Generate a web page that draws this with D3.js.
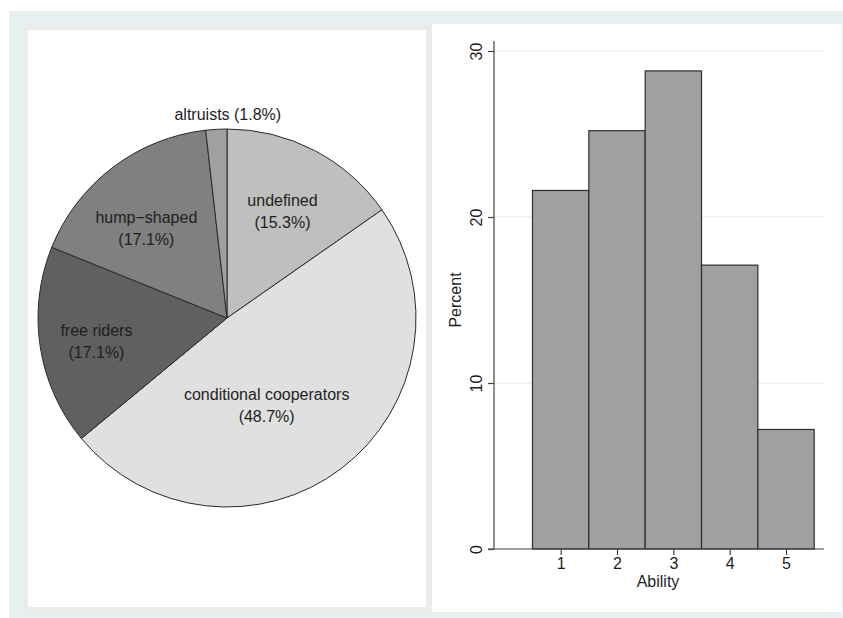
<!DOCTYPE html>
<html>
<head>
<meta charset="utf-8">
<script src="https://cdn.jsdelivr.net/npm/d3@7/dist/d3.min.js"></script>
<style>
  html, body { margin: 0; padding: 0; background: #ffffff; }
  svg { display: block; }
  text { font-family: "Liberation Sans", Arial, Helvetica, sans-serif; fill: #1e1e1e; }
</style>
</head>
<body>
<svg id="chart" width="843" height="618"></svg>
<script>
// ---------- data ----------
const pieCategories = ["undefined", "conditional cooperators", "free riders", "hump\u2212shaped", "altruists"];
const piePercents   = [15.3, 48.7, 17.1, 17.1, 1.8];
const pieColors     = ["#bfbfbf", "#e0e0e0", "#606060", "#808080", "#a0a0a0"];

const abilityLevels  = [1, 2, 3, 4, 5];
const abilityPercent = [21.6, 25.2, 28.8, 17.1, 7.2];
const yTicks = [0, 10, 20, 30];

// ---------- layout ----------
const svg = d3.select("#chart");
svg.append("rect").attr("x", 9).attr("y", 11).attr("width", 834).attr("height", 607).attr("fill", "#e8eff1");
svg.append("rect").attr("x", 23).attr("y", 24).attr("width", 409).attr("height", 589).attr("fill", "#ebebeb");
svg.append("rect").attr("x", 28).attr("y", 30).attr("width", 398).attr("height", 577).attr("fill", "#ffffff");
svg.append("rect").attr("x", 432).attr("y", 24).attr("width", 410).attr("height", 588).attr("fill", "#ffffff");

const FONT = 16;

// ---------- pie ----------
const cx = 227, cy = 318, R = 189;
const pieGen = d3.pie().sort(null).value(d => d.v).startAngle(0).endAngle(2 * Math.PI);
const pieData = pieGen(pieCategories.map((c, i) => ({ c, v: piePercents[i], col: pieColors[i] })));
const arc = d3.arc().innerRadius(0).outerRadius(R);
const gPie = svg.append("g").attr("transform", `translate(${cx},${cy})`);
gPie.selectAll("path").data(pieData).enter().append("path")
  .attr("d", arc)
  .attr("fill", d => d.data.col)
  .attr("stroke", "#2a2a2a")
  .attr("stroke-width", 1)
  .attr("stroke-linejoin", "round");

// label placement (layout nudges, pixels)
const labelArc = d3.arc().innerRadius(120).outerRadius(120);
const labelNudge = [[0, 0], [-33, -8], [-12, 5], [-8, 6], [0, 0]];
pieData.forEach((d, i) => {
  const pct = "(" + d.data.v.toFixed(1) + "%)";
  if (i === pieData.length - 1) {
    const a = (d.startAngle + d.endAngle) / 2;
    gPie.append("text")
      .attr("x", Math.sin(a) * (R + 18) + 12.5)
      .attr("y", -Math.cos(a) * (R + 18) + 9)
      .attr("text-anchor", "middle")
      .attr("font-size", FONT)
      .text(d.data.c + " " + pct);
    return;
  }
  const [lx, ly] = labelArc.centroid(d);
  const nx = lx + labelNudge[i][0], ny = ly + labelNudge[i][1];
  const t = gPie.append("text").attr("text-anchor", "middle").attr("font-size", FONT);
  t.append("tspan").attr("x", nx).attr("y", ny - 11 + 5.5).text(d.data.c);
  t.append("tspan").attr("x", nx).attr("y", ny + 11 + 5.5).text(pct);
});

// ---------- histogram ----------
const plotL = 494, plotR = 824, plotT = 41, plotB = 549;
const x = d3.scaleLinear().domain([0.5, 5.5]).range([532.5, 814.2]);
const y = d3.scaleLinear().domain([0, 30]).range([549, 51]);

const gH = svg.append("g");
gH.selectAll("line.grid").data(yTicks.filter(v => v > 0)).enter().append("line")
  .attr("x1", plotL).attr("x2", plotR)
  .attr("y1", d => y(d)).attr("y2", d => y(d))
  .attr("stroke", "#e8e8e8").attr("stroke-width", 1);

gH.selectAll("rect.bar").data(abilityLevels).enter().append("rect")
  .attr("x", d => x(d - 0.5))
  .attr("y", (d, i) => y(abilityPercent[i]))
  .attr("width", d => x(d + 0.5) - x(d - 0.5))
  .attr("height", (d, i) => y(0) - y(abilityPercent[i]))
  .attr("fill", "#a0a0a0")
  .attr("stroke", "#2e2e2e")
  .attr("stroke-width", 1.2);

const yAxis = d3.axisLeft(y).tickValues(yTicks).tickSize(6).tickPadding(0).tickFormat(d3.format("d"));
const gy = svg.append("g").attr("transform", `translate(${plotL},0)`).call(yAxis);
gy.select(".domain").remove();
gy.selectAll(".tick line").attr("stroke", "#444").attr("stroke-width", 1.2);
gy.selectAll(".tick text")
  .attr("x", null).attr("dy", null)
  .attr("transform", "translate(-12.5,0) rotate(-90)")
  .attr("text-anchor", "middle")
  .attr("font-size", FONT)
  .attr("font-family", "Liberation Sans, Arial, sans-serif")
  .attr("fill", "#1e1e1e")
  .attr("y", 0);
svg.append("line").attr("x1", plotL).attr("x2", plotL).attr("y1", plotT).attr("y2", plotB)
  .attr("stroke", "#444").attr("stroke-width", 1.2);

const xAxis = d3.axisBottom(x).tickValues(abilityLevels).tickSize(6).tickPadding(3).tickFormat(d3.format("d"));
const gx = svg.append("g").attr("transform", `translate(0,${plotB})`).call(xAxis);
gx.select(".domain").remove();
gx.selectAll(".tick line").attr("stroke", "#444").attr("stroke-width", 1.2);
gx.selectAll(".tick text")
  .attr("font-size", FONT)
  .attr("font-family", "Liberation Sans, Arial, sans-serif")
  .attr("fill", "#1e1e1e");
svg.append("line").attr("x1", plotL - 6).attr("x2", plotR).attr("y1", plotB).attr("y2", plotB)
  .attr("stroke", "#444").attr("stroke-width", 1.2);

svg.append("text").attr("x", 658).attr("y", 587).attr("text-anchor", "middle")
  .attr("font-size", FONT).text("Ability");
svg.append("text").attr("transform", "translate(461,300) rotate(-90)").attr("text-anchor", "middle")
  .attr("font-size", FONT).text("Percent");
</script>
</body>
</html>
